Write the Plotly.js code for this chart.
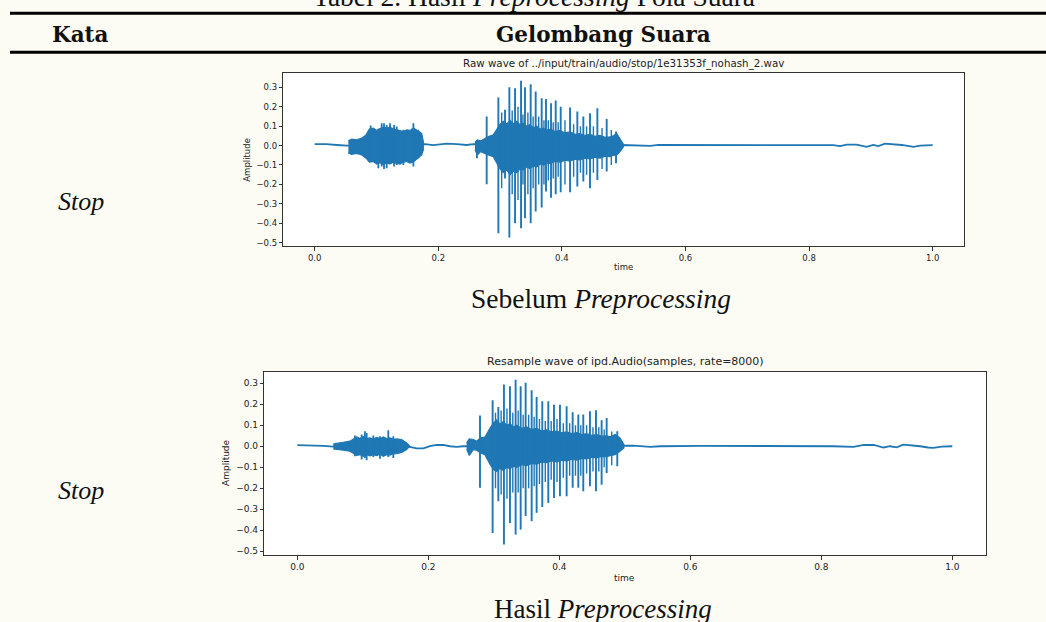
<!DOCTYPE html>
<html>
<head>
<meta charset="utf-8">
<script src="https://cdn.plot.ly/plotly-3.0.1.min.js"></script>
<style>
html,body{margin:0;padding:0;background:#fcfcf5;}
#chart{width:1046px;height:622px;}
</style>
</head>
<body>
<div id="chart"></div>
<script>
// ---------- texts ----------
const tableCaption = "Tabel 2. Hasil <i>Preprocessing</i> Pola Suara";
const headerWord = "Kata";
const headerWave = "Gelombang Suara";
const wordLabels = ["<i>Stop</i>", "<i>Stop</i>"];
const rowCaptions = ["Sebelum <i>Preprocessing</i>", "Hasil <i>Preprocessing</i>"];
const plotTitles = ["Raw wave of ../input/train/audio/stop/1e31353f_nohash_2.wav",
                    "Resample wave of ipd.Audio(samples, rate=8000)"];
const xLabel = "time";
const yLabel = "Amplitude";

// ---------- raw wave ----------
const rawLineT = [0, 0.019, 0.036, 0.052, 0.1, 0.1785, 0.192, 0.203, 0.2136, 0.23, 0.246, 0.2567, 0.35, 0.497, 0.516, 0.543, 0.556, 0.623, 0.785, 0.839, 0.85, 0.861, 0.877, 0.893, 0.904, 0.912, 0.923, 0.936, 0.95, 0.969, 0.98, 1.0];
const rawLineA = [0.007, 0.007, 0.003, 0.0, 0.0, 0.007, 0.002, 0.007, 0.01, 0.007, 0.003, 0.007, 0.0, 0.003, 0.0, -0.002, 0.003, 0.003, 0.003, 0.002, -0.003, 0.005, 0.005, -0.007, 0.003, -0.003, 0.01, 0.007, 0.003, -0.007, 0.0, 0.002];

const rawCoreAT  = [0.0545, 0.0599, 0.068, 0.0761, 0.0831, 0.0885, 0.0949, 0.1003, 0.1057, 0.1111, 0.1165, 0.1219, 0.1273, 0.1327, 0.1381, 0.1435, 0.1489, 0.1543, 0.1597, 0.1677, 0.1731, 0.1758];
const rawCoreAHi = [0.024, 0.033, 0.03, 0.038, 0.055, 0.085, 0.09, 0.078, 0.088, 0.095, 0.09, 0.094, 0.086, 0.08, 0.075, 0.072, 0.081, 0.078, 0.09, 0.075, 0.063, 0.021];
const rawCoreALo = [-0.039, -0.045, -0.04, -0.048, -0.065, -0.085, -0.082, -0.095, -0.088, -0.098, -0.09, -0.094, -0.086, -0.092, -0.095, -0.085, -0.082, -0.09, -0.085, -0.065, -0.048, -0.022];
const rawSpikeAT  = [0.0906, 0.103, 0.1084, 0.1122, 0.1165, 0.1219, 0.1284, 0.1327, 0.1435, 0.1597, 0.1677];
const rawSpikeAHi = [0.103, 0.086, 0.115, 0.115, 0.106, 0.115, 0.106, 0.098, 0.081, 0.115, 0.081];
const rawSpikeALo = [-0.086, -0.117, -0.108, -0.12, -0.117, -0.091, -0.108, -0.1, -0.1, -0.108, -0.065];

const rawCoreBT  = [0.2594, 0.2632, 0.2686, 0.2756, 0.281, 0.2891, 0.2945, 0.3, 0.3053, 0.3107, 0.3161, 0.3215, 0.3269, 0.3322, 0.3376, 0.343, 0.3484, 0.3538, 0.3592, 0.3646, 0.37, 0.3754, 0.3808, 0.389, 0.397, 0.405, 0.4132, 0.421, 0.4293, 0.437, 0.4455, 0.4535, 0.4617, 0.47, 0.4779, 0.4835, 0.4887, 0.4941, 0.4995];
const rawCoreBHi = [0.017, 0.029, 0.024, 0.038, 0.046, 0.055, 0.085, 0.11, 0.125, 0.11, 0.13, 0.112, 0.125, 0.108, 0.115, 0.1, 0.108, 0.092, 0.1, 0.085, 0.09, 0.08, 0.085, 0.072, 0.078, 0.065, 0.07, 0.058, 0.062, 0.052, 0.058, 0.048, 0.052, 0.042, 0.045, 0.05, 0.062, 0.035, 0.007];
const rawCoreBLo = [-0.022, -0.048, -0.031, -0.039, -0.048, -0.057, -0.09, -0.12, -0.14, -0.125, -0.15, -0.13, -0.14, -0.12, -0.125, -0.11, -0.118, -0.105, -0.11, -0.095, -0.1, -0.09, -0.092, -0.082, -0.085, -0.075, -0.08, -0.07, -0.074, -0.065, -0.069, -0.06, -0.065, -0.055, -0.057, -0.05, -0.048, -0.031, -0.007];
const rawSpikeBT  = [0.2626, 0.2783, 0.2972, 0.308, 0.315, 0.3242, 0.3339, 0.3403, 0.3495, 0.3576, 0.3673, 0.3743, 0.3824, 0.39, 0.3981, 0.4132, 0.425, 0.4347, 0.4455, 0.4574, 0.4725, 0.4876];
const rawSpikeBHi = [0.02, 0.149, 0.247, 0.184, 0.30, 0.295, 0.334, 0.30, 0.316, 0.278, 0.244, 0.24, 0.218, 0.232, 0.2, 0.196, 0.175, 0.149, 0.166, 0.192, 0.137, 0.072];
const rawSpikeBLo = [-0.065, -0.199, -0.451, -0.17, -0.473, -0.40, -0.425, -0.374, -0.40, -0.34, -0.319, -0.237, -0.268, -0.25, -0.24, -0.24, -0.211, -0.185, -0.22, -0.177, -0.134, -0.091];
const rawMinorT  = [0.3026, 0.3196, 0.329, 0.337, 0.345, 0.3535, 0.3625, 0.371, 0.378, 0.386, 0.394, 0.405, 0.419, 0.43, 0.44, 0.451, 0.465, 0.48];
const rawMinorHi = [0.17, 0.18, 0.2, 0.16, 0.17, 0.15, 0.15, 0.13, 0.13, 0.12, 0.12, 0.13, 0.11, 0.1, 0.1, 0.1, 0.09, 0.08];
const rawMinorLo = [-0.22, -0.25, -0.28, -0.2, -0.25, -0.22, -0.2, -0.2, -0.18, -0.17, -0.16, -0.2, -0.16, -0.14, -0.15, -0.14, -0.12, -0.1];

// ---------- resampled wave ----------
const resLineT = [0, 0.019, 0.04, 0.055, 0.1, 0.172, 0.182, 0.1924, 0.2025, 0.2127, 0.2229, 0.2331, 0.2433, 0.2534, 0.35, 0.497, 0.513, 0.539, 0.554, 0.615, 0.79, 0.818, 0.849, 0.865, 0.88, 0.895, 0.905, 0.915, 0.925, 0.935, 0.951, 0.963, 0.971, 0.984, 1.0];
const resLineA = [0.005, 0.005, 0.002, -0.002, 0.0, -0.003, -0.01, -0.01, 0.0, 0.006, 0.006, 0.0, -0.003, 0.0, 0.0, 0.0, 0.003, -0.003, 0.0, 0.002, 0.002, 0.0, -0.003, 0.006, 0.006, -0.006, 0.0, -0.005, 0.008, 0.006, 0.0, -0.006, -0.008, -0.002, 0.0];

const resCoreAT  = [0.055, 0.0626, 0.0702, 0.0804, 0.0855, 0.0906, 0.0957, 0.1008, 0.1059, 0.1109, 0.116, 0.1211, 0.1262, 0.1313, 0.1364, 0.1415, 0.1466, 0.1517, 0.1593, 0.1669, 0.171];
const resCoreAHi = [0.011, 0.016, 0.019, 0.024, 0.035, 0.044, 0.038, 0.045, 0.036, 0.04, 0.034, 0.042, 0.036, 0.044, 0.037, 0.04, 0.033, 0.035, 0.032, 0.016, 0.003];
const resCoreALo = [-0.013, -0.016, -0.019, -0.024, -0.035, -0.044, -0.04, -0.048, -0.04, -0.046, -0.04, -0.045, -0.038, -0.048, -0.04, -0.042, -0.036, -0.035, -0.029, -0.016, -0.003];
const resSpikeAT  = [0.088, 0.0982, 0.1033, 0.1059, 0.116, 0.1262, 0.1389, 0.1466];
const resSpikeAHi = [0.051, 0.056, 0.071, 0.063, 0.051, 0.048, 0.076, 0.048];
const resSpikeALo = [-0.048, -0.063, -0.056, -0.067, -0.051, -0.06, -0.051, -0.056];

const resCoreBT  = [0.2585, 0.2626, 0.2687, 0.2738, 0.2799, 0.2865, 0.2941, 0.2992, 0.3043, 0.3094, 0.3145, 0.3196, 0.3247, 0.3298, 0.3349, 0.3425, 0.3501, 0.3577, 0.3654, 0.373, 0.3807, 0.3883, 0.3959, 0.4035, 0.4112, 0.4188, 0.4265, 0.4341, 0.4417, 0.4494, 0.457, 0.4646, 0.4723, 0.4786, 0.485, 0.4926, 0.4987];
const resCoreBHi = [0.016, 0.035, 0.032, 0.024, 0.04, 0.044, 0.085, 0.11, 0.125, 0.105, 0.118, 0.1, 0.108, 0.092, 0.1, 0.085, 0.092, 0.08, 0.085, 0.072, 0.078, 0.068, 0.072, 0.064, 0.068, 0.06, 0.065, 0.056, 0.06, 0.052, 0.055, 0.048, 0.05, 0.045, 0.056, 0.04, 0.008];
const resCoreBLo = [-0.013, -0.044, -0.016, -0.019, -0.032, -0.04, -0.085, -0.11, -0.12, -0.105, -0.115, -0.1, -0.108, -0.095, -0.1, -0.088, -0.092, -0.082, -0.085, -0.075, -0.078, -0.07, -0.074, -0.066, -0.07, -0.062, -0.066, -0.058, -0.06, -0.052, -0.055, -0.048, -0.05, -0.044, -0.04, -0.024, -0.008];
const resSpikeBT  = [0.2789, 0.2982, 0.3069, 0.3155, 0.3247, 0.3333, 0.341, 0.3486, 0.3578, 0.3654, 0.374, 0.3832, 0.3919, 0.401, 0.4112, 0.4204, 0.429, 0.4366, 0.4468, 0.456, 0.4646, 0.4723, 0.4885];
const resSpikeBHi = [0.146, 0.219, 0.187, 0.294, 0.286, 0.317, 0.286, 0.302, 0.267, 0.235, 0.214, 0.214, 0.198, 0.198, 0.19, 0.162, 0.151, 0.151, 0.167, 0.171, 0.124, 0.135, 0.071];
const resSpikeBLo = [-0.198, -0.413, -0.262, -0.468, -0.365, -0.421, -0.397, -0.333, -0.357, -0.317, -0.289, -0.27, -0.246, -0.238, -0.238, -0.198, -0.198, -0.214, -0.19, -0.214, -0.183, -0.127, -0.095];
const resMinorT  = [0.3026, 0.3112, 0.3201, 0.329, 0.3372, 0.3448, 0.3532, 0.3616, 0.3697, 0.3786, 0.3876, 0.3965, 0.4061, 0.4158, 0.4247, 0.4328, 0.4417, 0.4514, 0.4603, 0.4685, 0.48];
const resMinorHi = [0.16, 0.17, 0.18, 0.16, 0.17, 0.15, 0.15, 0.14, 0.13, 0.12, 0.12, 0.13, 0.11, 0.11, 0.1, 0.1, 0.1, 0.09, 0.09, 0.08, 0.07];
const resMinorLo = [-0.2, -0.23, -0.25, -0.22, -0.22, -0.2, -0.2, -0.19, -0.18, -0.17, -0.16, -0.17, -0.15, -0.14, -0.14, -0.14, -0.13, -0.12, -0.12, -0.1, -0.09];

// ---------- build traces ----------
const W = 1046, H = 622;
const BLUE = '#1f77b4';
const px = x => x / W;
const py = y => 1 - y / H;

function lineTrace(t, a, xa, ya) {
  return {x: t, y: a, xaxis: xa, yaxis: ya, type: 'scatter', mode: 'lines',
          line: {color: BLUE, width: 1.8}, hoverinfo: 'skip'};
}
function coreTrace(t, hi, lo, xa, ya) {
  return {x: t.concat(t.slice().reverse()), y: hi.concat(lo.slice().reverse()),
          xaxis: xa, yaxis: ya, type: 'scatter', mode: 'lines', fill: 'toself',
          fillcolor: BLUE, line: {color: BLUE, width: 1.2}, hoverinfo: 'skip'};
}
function spikeTrace(t, hi, lo, xa, ya, w) {
  const xs = [], ys = [];
  t.forEach((v, i) => { xs.push(v, v, null); ys.push(hi[i], lo[i], null); });
  return {x: xs, y: ys, xaxis: xa, yaxis: ya, type: 'scatter', mode: 'lines',
          line: {color: BLUE, width: w}, hoverinfo: 'skip'};
}

const data = [
  lineTrace(rawLineT, rawLineA, 'x', 'y'),
  coreTrace(rawCoreAT, rawCoreAHi, rawCoreALo, 'x', 'y'),
  spikeTrace(rawSpikeAT, rawSpikeAHi, rawSpikeALo, 'x', 'y', 1.8),
  coreTrace(rawCoreBT, rawCoreBHi, rawCoreBLo, 'x', 'y'),
  spikeTrace(rawMinorT, rawMinorHi, rawMinorLo, 'x', 'y', 1.4),
  spikeTrace(rawSpikeBT, rawSpikeBHi, rawSpikeBLo, 'x', 'y', 1.9),
  lineTrace(resLineT, resLineA, 'x2', 'y2'),
  coreTrace(resCoreAT, resCoreAHi, resCoreALo, 'x2', 'y2'),
  spikeTrace(resSpikeAT, resSpikeAHi, resSpikeALo, 'x2', 'y2', 1.8),
  coreTrace(resCoreBT, resCoreBHi, resCoreBLo, 'x2', 'y2'),
  spikeTrace(resMinorT, resMinorHi, resMinorLo, 'x2', 'y2', 1.4),
  spikeTrace(resSpikeBT, resSpikeBHi, resSpikeBLo, 'x2', 'y2', 1.9)
];

function tickFont(s) { return {family: 'DejaVu Sans', size: s, color: '#222'}; }
function xAx(domain, range, anchor, fs) {
  return {domain: domain, range: range, anchor: anchor, tick0: 0, dtick: 0.2, tickformat: '.1f',
          showgrid: false, zeroline: false, showline: true, mirror: true, linecolor: '#333', linewidth: 1,
          ticks: 'outside', ticklen: 3.5, tickwidth: 1, tickcolor: '#333', tickfont: tickFont(fs), fixedrange: true};
}
function yAx(domain, range, anchor, fs) {
  return {domain: domain, range: range, anchor: anchor, tick0: 0, dtick: 0.1, tickformat: '.1f',
          showgrid: false, zeroline: false, showline: true, mirror: true, linecolor: '#333', linewidth: 1,
          ticks: 'outside', ticklen: 3.5, tickwidth: 1, tickcolor: '#333', tickfont: tickFont(fs), fixedrange: true};
}

const serif = 'Liberation Serif';
const serifBold = 'DejaVu Serif';
const sans = 'DejaVu Sans';
function ann(text, x, y, font, extra) {
  return Object.assign({text: text, x: px(x), y: py(y), xref: 'paper', yref: 'paper',
          xanchor: 'center', yanchor: 'middle', showarrow: false, font: font}, extra || {});
}

const annotations = [
  ann(tableCaption, 534, -3, {family: serif, size: 27.5, color: '#111'}),
  ann(headerWord, 80, 35, {family: serifBold, size: 21.5, color: '#111', weight: 700}),
  ann(headerWave, 603, 35, {family: serifBold, size: 21.5, color: '#111', weight: 700}),
  ann(wordLabels[0], 81, 202, {family: serif, size: 26, color: '#111'}),
  ann(rowCaptions[0], 601, 298, {family: serif, size: 27.5, color: '#111'}),
  ann(wordLabels[1], 81, 490, {family: serif, size: 26, color: '#111'}),
  ann(rowCaptions[1], 603, 609, {family: serif, size: 27, color: '#111'}),
  ann(plotTitles[0], 623.6, 63.5, {family: sans, size: 10.3, color: '#222'}),
  ann(plotTitles[1], 625, 361, {family: sans, size: 11, color: '#222'}),
  ann(yLabel, 246.7, 160, {family: sans, size: 8.5, color: '#222'}, {textangle: -90}),
  ann(xLabel, 623.3, 267, {family: sans, size: 8.5, color: '#222'}),
  ann(yLabel, 226, 463, {family: sans, size: 9, color: '#222'}, {textangle: -90}),
  ann(xLabel, 624, 578, {family: sans, size: 9, color: '#222'})
];

const shapes = [13.3, 52.3].map(y => ({type: 'line', xref: 'paper', yref: 'paper',
  x0: px(10), x1: px(1046), y0: py(y), y1: py(y), line: {color: '#000', width: 3}}));

const layout = {
  width: W, height: H, margin: {l: 0, r: 0, t: 0, b: 0},
  paper_bgcolor: '#fcfcf5', plot_bgcolor: '#ffffff', showlegend: false,
  xaxis: xAx([px(283.3), px(964)], [-0.0508, 1.0507], 'y', 8.5),
  yaxis: yAx([py(246), py(73.3)], [-0.517, 0.372], 'x', 8.5),
  xaxis2: xAx([px(264.3), px(985.7)], [-0.0504, 1.051], 'y2', 9),
  yaxis2: yAx([py(555), py(371.7)], [-0.518, 0.355], 'x2', 9),
  annotations: annotations,
  shapes: shapes
};

Plotly.newPlot('chart', data, layout, {staticPlot: true, displayModeBar: false});
</script>
</body>
</html>
